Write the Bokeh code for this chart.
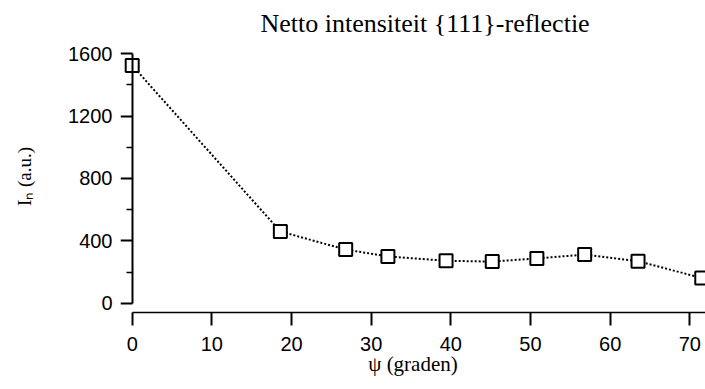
import math
from bokeh.plotting import figure
from bokeh.models import FixedTicker, Range1d, LinearAxis
from bokeh.embed import file_html
from bokeh.resources import INLINE

# data
psi = [0, 18.6, 26.8, 32.1, 39.4, 45.2, 50.8, 56.8, 63.5, 71.5]
intensity = [1525, 460, 344, 300, 272, 267, 287, 312, 269, 162]
x_ticks = [0, 10, 20, 30, 40, 50, 60, 70]
y_ticks = [0, 400, 800, 1200, 1600]
y_minor = [200, 600, 1000, 1400]

title_text = "Netto intensiteit {111}-reflectie"
x_label = "ψ (graden)"
y_label = "Iₙ (a.u.)"

serif = "Liberation Serif"
sans = "Liberation Sans"

p = figure(width=705, height=389, output_backend="svg", toolbar_location=None,
           x_range=Range1d(-1.469, 71.97), y_range=Range1d(-59.7, 1685.2),
           min_border_left=120, min_border_right=0, min_border_top=40,
           min_border_bottom=77)
p.outline_line_color = None
p.grid.visible = False
p.background_fill_color = "white"
p.border_fill_color = "white"

p.title.text = title_text
p.title.text_font = serif
p.title.text_font_size = "26px"
p.title.text_font_style = "normal"
p.title.align = "left"
p.title.offset = 140
p.title.standoff = 5
p.title.text_color = "black"

# y axis: labels only, at the frame edge
ya = p.yaxis[0]
ya.bounds = (0, 1600)
ya.ticker = FixedTicker(ticks=y_ticks, minor_ticks=y_minor)
ya.axis_line_color = None
ya.major_tick_line_color = None
ya.minor_tick_line_color = None
ya.major_tick_out = 0
ya.minor_tick_out = 0
ya.major_tick_in = 0
ya.minor_tick_in = 0
ya.major_label_standoff = 8
ya.major_label_text_font = sans
ya.major_label_text_font_size = "20px"
ya.major_label_text_color = "black"
ya.axis_label = y_label
ya.axis_label_text_font = serif
ya.axis_label_text_font_size = "19px"
ya.axis_label_text_font_style = "normal"
ya.axis_label_text_color = "black"
ya.axis_label_standoff = 30

# y axis line and ticks at x = 0
yb = LinearAxis(fixed_location=0, bounds=(0, 1600),
                ticker=FixedTicker(ticks=y_ticks, minor_ticks=y_minor))
yb.axis_line_width = 2
yb.axis_line_color = "black"
yb.major_tick_out = 12
yb.major_tick_in = 0
yb.minor_tick_out = 6
yb.minor_tick_in = 0
yb.major_tick_line_width = 2
yb.minor_tick_line_width = 1.5
yb.major_label_text_font_size = "0px"
yb.major_label_text_alpha = 0
p.add_layout(yb, "left")

# x axis
xa = p.xaxis[0]
xa.bounds = (0, 72)
xa.ticker = FixedTicker(ticks=x_ticks, minor_ticks=[])
xa.axis_line_width = 1.7
xa.axis_line_color = "black"
xa.major_tick_out = 13
xa.major_tick_in = 0
xa.major_tick_line_width = 2
xa.minor_tick_out = 0
xa.minor_tick_in = 0
xa.major_label_standoff = 11
xa.major_label_text_font = sans
xa.major_label_text_font_size = "20px"
xa.major_label_text_color = "black"
xa.axis_label = x_label
xa.axis_label_text_font = serif
xa.axis_label_text_font_size = "21px"
xa.axis_label_text_font_style = "normal"
xa.axis_label_text_color = "black"
xa.axis_label_standoff = -2

p.line(psi, intensity, line_color="black", line_width=2, line_dash="2 2")
p.scatter(psi, intensity, marker="square", size=13, fill_color="white",
          line_color="black", line_width=2)

open("out.html", "w").write(file_html(p, INLINE))
